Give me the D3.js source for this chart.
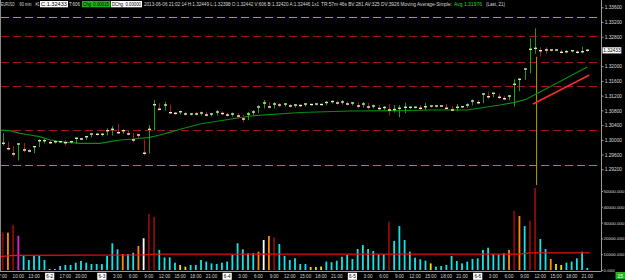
<!DOCTYPE html>
<html>
<head>
<meta charset="utf-8">
<script src="https://cdn.jsdelivr.net/npm/d3@7"></script>
<style>
  body { margin: 0; background: #000; }
  svg { display: block; font-family: "Liberation Sans", Arial, sans-serif; }
</style>
</head>
<body>
<div id="chart"></div>
<script>
// EURUSD 60 min bars, 31 May 7:00 .. 6 Jun 21:00 (113 bars)
var opens = [1.29861,1.29907,1.29760,1.29617,1.29887,1.29725,1.29698,1.29814,1.29956,1.29978,
  1.29923,1.29942,1.29950,1.29923,1.29950,1.30042,1.30023,1.30085,1.30159,1.30132,
  1.30151,1.30248,1.30286,1.30194,1.30248,1.30159,1.30151,1.30015,1.29636,1.30286,
  1.30954,1.30830,1.30946,1.30737,1.30720,1.30764,1.30688,1.30715,1.30702,1.30729,
  1.30674,1.30702,1.30756,1.30715,1.30674,1.30702,1.30647,1.30566,1.30702,1.30756,
  1.30892,1.31001,1.30892,1.30973,1.30946,1.30973,1.30919,1.30946,1.30933,1.30973,
  1.30960,1.30973,1.30960,1.31014,1.31041,1.31001,1.31028,1.30973,1.31001,1.30919,
  1.30973,1.30892,1.30919,1.30851,1.30878,1.30810,1.30824,1.30857,1.30871,1.30876,
  1.30884,1.30857,1.30900,1.30911,1.30927,1.30919,1.30857,1.30810,1.30884,1.30900,
  1.30946,1.31055,1.31009,1.31245,1.31171,1.31264,1.31155,1.31117,1.31190,1.31508,
  1.31644,1.31924,1.32459,1.32486,1.32453,1.32445,1.32434,1.32440,1.32377,1.32394,
  1.32421,1.32377,1.32442];
var highs = [1.30186,1.29950,1.29833,1.29907,1.29915,1.29752,1.29833,1.30015,1.30023,1.29983,
  1.29983,1.29969,1.29997,1.29969,1.30069,1.30050,1.30104,1.30177,1.30172,1.30177,
  1.30313,1.30375,1.30430,1.30286,1.30267,1.30194,1.30151,1.30015,1.30403,1.31082,
  1.30992,1.31036,1.30954,1.30756,1.30791,1.30770,1.30729,1.30756,1.30770,1.30756,
  1.30729,1.30810,1.30770,1.30729,1.30742,1.30729,1.30674,1.30756,1.30810,1.30946,
  1.31082,1.31028,1.31028,1.31001,1.31001,1.30973,1.30973,1.30960,1.31001,1.30973,
  1.30987,1.30973,1.31055,1.31068,1.31055,1.31082,1.31041,1.31028,1.31014,1.31028,
  1.31001,1.30960,1.30946,1.30919,1.30973,1.30946,1.30946,1.31009,1.30905,1.30905,
  1.30946,1.31009,1.30933,1.30933,1.30933,1.30973,1.30919,1.30973,1.30919,1.30992,
  1.31101,1.31082,1.31264,1.31307,1.31280,1.31264,1.31190,1.31218,1.31644,1.31671,
  1.31943,1.32758,1.33029,1.32513,1.32513,1.32459,1.32453,1.32459,1.32440,1.32440,
  1.32440,1.32530,1.32449];
var lows = [1.29861,1.29725,1.29561,1.29453,1.29679,1.29671,1.29652,1.29814,1.29915,1.29901,
  1.29915,1.29929,1.29861,1.29915,1.29907,1.29997,1.30010,1.30085,1.30132,1.30104,
  1.30132,1.30132,1.30177,1.30177,1.30132,1.29950,1.30042,1.29589,1.29636,1.30267,
  1.30810,1.30810,1.30720,1.30688,1.30702,1.30674,1.30674,1.30674,1.30674,1.30647,
  1.30647,1.30674,1.30688,1.30647,1.30647,1.30593,1.30484,1.30552,1.30674,1.30742,
  1.30865,1.30865,1.30865,1.30905,1.30919,1.30892,1.30892,1.30905,1.30919,1.30946,
  1.30946,1.30946,1.30946,1.31001,1.30973,1.30973,1.30946,1.30946,1.30865,1.30892,
  1.30838,1.30865,1.30810,1.30824,1.30674,1.30756,1.30628,1.30737,1.30851,1.30865,
  1.30810,1.30830,1.30892,1.30892,1.30905,1.30810,1.30791,1.30791,1.30878,1.30884,
  1.30946,1.30992,1.31009,1.31128,1.31171,1.31128,1.31082,1.31082,1.30919,1.31334,
  1.31644,1.31823,1.32350,1.32277,1.32350,1.32413,1.32421,1.32367,1.32367,1.32386,
  1.32358,1.32367,1.32398];
var closes = [1.29907,1.29760,1.29617,1.29887,1.29725,1.29698,1.29814,1.29978,1.29978,1.29923,
  1.29950,1.29950,1.29923,1.29950,1.30042,1.30023,1.30085,1.30159,1.30151,1.30151,
  1.30248,1.30286,1.30194,1.30248,1.30159,1.29997,1.30132,1.29636,1.30286,1.30954,
  1.30830,1.30946,1.30737,1.30720,1.30764,1.30702,1.30702,1.30702,1.30729,1.30674,
  1.30702,1.30756,1.30715,1.30674,1.30702,1.30647,1.30566,1.30702,1.30756,1.30892,
  1.31001,1.30892,1.30973,1.30946,1.30973,1.30919,1.30946,1.30933,1.30973,1.30960,
  1.30973,1.30960,1.31014,1.31041,1.31001,1.31028,1.30973,1.31001,1.30919,1.30973,
  1.30892,1.30919,1.30851,1.30878,1.30810,1.30824,1.30857,1.30884,1.30884,1.30884,
  1.30857,1.30900,1.30919,1.30919,1.30919,1.30857,1.30810,1.30884,1.30900,1.30946,
  1.31055,1.31009,1.31245,1.31171,1.31264,1.31155,1.31117,1.31190,1.31508,1.31644,
  1.31924,1.32459,1.32486,1.32421,1.32440,1.32440,1.32440,1.32377,1.32394,1.32421,
  1.32377,1.32394,1.32433];

var volumes = [23900,23600,28500,21700,8900,6300,8900,8900,6300,600,
  600,2500,3200,3200,4600,5700,4600,3800,3800,3800,
  8900,16900,13100,10100,10100,10900,15200,20100,35400,33700,
  12700,8000,8000,4600,3200,2100,3200,3200,6300,5300,
  4200,3800,4600,5300,9500,16900,13100,10600,10600,11600,
  19000,21500,20700,16500,8900,6300,7400,3800,3800,1900,
  1900,2200,5300,4900,5900,8400,9500,7000,13300,15800,
  13300,12000,10100,9900,30600,18400,27800,19000,11600,7800,
  6800,5900,4200,2100,2500,3200,8900,5700,4200,5300,
  7000,7400,12700,14100,10100,9900,10600,12700,37500,34200,
  27800,31200,52000,19600,13300,7000,3800,3200,4600,5300,
  7400,11600,1300];
// volume bar class: c normal, r heavy, o high, m peak, w rising, y thin
var volKinds = ("rorm" + "ccccc" + "yy" + "cccccccccccc" + "o" + "cc" + "o" + "w" + "rr" +
  "cccc" + "yy" + "ccccccccccccc" + "owor" + "cccccc" + "yyy" + "cccccccccccc" + "r" +
  "ccccccc" + "y" + "cccccccccccccc" + "oro" + "c" + "rr" + "cc" + "o" + "yy" + "ccccc").split("");

// Moving Average-Simple (21), read as [bar, value]
var maPoints = [[-0.5,1.30267],[1.4,1.30249],[3.3,1.30178],[5.2,1.30132],[7.1,1.30086],
  [9.1,1.29996],[11,1.29950],[14.8,1.29906],[18.6,1.29906],[20.6,1.29950],[22.5,1.29996],
  [25,1.30023],[28.2,1.30069],[30.1,1.30132],[32,1.30205],[34,1.30287],[37.8,1.30430],
  [47.4,1.30648],[57,1.30743],[66.5,1.30784],[76.1,1.30792],[81.9,1.30811],[89,1.30811],
  [95.3,1.30947],[98.1,1.31020],[100.3,1.31101],[112,1.31976]];
var trendPoints = [[101.6,1.30974],[112.4,1.31761]];
var volAvgPoints = [[-0.5,8400],[2,9300],[27,9600],[29,10100],[99,10100],[101,10900],[112.5,10900]];

var levels = [1.33345, 1.32812, 1.32123, 1.31463, 1.30259, 1.29309];
var levelKinds = ["y", "r", "r", "r", "r", "t"];
var markerBar = 102, markerTop = 1.32258, markerBottom = 1.28773;
var lastPrice = 1.32433;

var priceTicks = [1.336, 1.332, 1.328, 1.320, 1.316, 1.312, 1.308, 1.304, 1.300, 1.296, 1.292];
var volTicks = [0, 10000, 20000, 30000, 40000, 50000];
var timeLabels = [[0,"7:00"],[3,"10:00"],[6,"13:00"],[12,"17:00"],[15,"20:00"],
  [22,"3:00"],[25,"6:00"],[28,"9:00"],[31,"12:00"],[34,"15:00"],[37,"18:00"],[40,"21:00"],
  [46,"3:00"],[49,"6:00"],[52,"9:00"],[55,"12:00"],[58,"15:00"],[61,"18:00"],[64,"21:00"],
  [70,"3:00"],[73,"6:00"],[76,"9:00"],[79,"12:00"],[82,"15:00"],[85,"18:00"],[88,"21:00"],
  [94,"3:00"],[97,"6:00"],[100,"9:00"],[103,"12:00"],[106,"15:00"],[109,"18:00"],[112,"21:00"]];
var dateLabels = [[9,"6-2"],[19,"6-3"],[43,"6-4"],[67,"6-5"],[91,"6-6"]];

var headerParts = [
  {t: "EURUSD", x: 1, w: 13.5},
  {t: "60 min", x: 19.5, w: 12},
  {t: "#1", x: 35.5, w: 4},
  {t: "C:1.32433", x: 41, w: 26, box: "#ffffff", bx: 40, bw: 28},
  {t: "T:606", x: 69, w: 11},
  {t: "Chg: 0.00015", x: 83, w: 26, box: "#1eb41e", bx: 82, bw: 28.5},
  {t: "DChg: 0.00000", x: 112, w: 29, box: "#ffffff", bx: 111, bw: 31},
  {t: "2013-06-06 21:02:14 H:1.32449 L:1.32398 O:1.32442 V:606 B:1.32420 A:1.32446 1x1", x: 144, w: 175},
  {t: "TR:57m 46s BV:281 AV:325 DV:3926 Moving Average-Simple:", x: 321, w: 131},
  {t: "Avg 1.31976", x: 454, w: 28, color: "#22dd22"},
  {t: "(Last, 21)", x: 486, w: 19}
];

var svgWidth = 625, svgHeight = 280;
var plotRight = 601.5;

var svg = d3.select("#chart").append("svg")
  .attr("width", svgWidth)
  .attr("height", svgHeight);

svg.append("rect").attr("width", svgWidth).attr("height", svgHeight).attr("fill", "#000");

var x = d3.scaleLinear().domain([0, 112]).range([2.7, 587.3]);
var y = d3.scaleLinear().domain([1.292, 1.336]).range([169.3, 7.3]);
var yVol = d3.scaleLinear().domain([0, 50000]).range([270, 191]);

var levelColor = {y: "#a3a32c", r: "#a31414", t: "#4e9c9c"};
var volColor = {c: "#14e4ea", r: "#8c0a0a", o: "#ff8c00", m: "#e01ee0", w: "#ffffff", y: "#e6e600"};

svg.append("clipPath").attr("id", "priceClip")
  .append("rect").attr("x", 1).attr("y", 0).attr("width", plotRight - 1).attr("height", 187);

var pricePane = svg.append("g").attr("clip-path", "url(#priceClip)");

// dashed levels
pricePane.selectAll("line.level")
  .data(levels)
  .enter()
  .append("line")
  .attr("class", "level")
  .attr("x1", 1)
  .attr("x2", plotRight)
  .attr("y1", d => Math.round(y(d)) + 0.5)
  .attr("y2", d => Math.round(y(d)) + 0.5)
  .attr("stroke", (d, i) => levelColor[levelKinds[i]])
  .attr("stroke-width", 1)
  .attr("stroke-dasharray", "8,4");

// marker line
pricePane.append("line")
  .attr("x1", x(markerBar) + 1.5)
  .attr("x2", x(markerBar) + 1.5)
  .attr("y1", y(markerTop))
  .attr("y2", y(markerBottom))
  .attr("stroke", "#b0a000")
  .attr("stroke-width", 1);

// moving average
var lineGen = d3.line().x(d => x(d[0])).y(d => y(d[1]));
pricePane.append("path")
  .datum(maPoints)
  .attr("d", lineGen)
  .attr("fill", "none")
  .attr("stroke", "#0c8c0c")
  .attr("stroke-width", 1.2);

pricePane.append("path")
  .datum(trendPoints)
  .attr("d", lineGen)
  .attr("fill", "none")
  .attr("stroke", "#ff2a2a")
  .attr("stroke-width", 1.5);

// bars
var idx = d3.range(closes.length);
pricePane.selectAll("line.wick")
  .data(idx)
  .enter()
  .append("line")
  .attr("class", "wick")
  .attr("x1", i => Math.round(x(i)) + 0.5)
  .attr("x2", i => Math.round(x(i)) + 0.5)
  .attr("y1", i => y(highs[i]))
  .attr("y2", i => y(lows[i]) + 0.5)
  .attr("stroke", i => closes[i] >= opens[i] ? "#14a014" : "#a81818")
  .attr("stroke-width", 1);

pricePane.selectAll("rect.tick")
  .data(idx)
  .enter()
  .append("rect")
  .attr("class", "tick")
  .attr("x", i => Math.round(x(i)) - 1)
  .attr("y", i => y(closes[i]) - 0.7)
  .attr("width", 3)
  .attr("height", 1.4)
  .attr("fill", i => closes[i] >= opens[i] ? "#d2eaa0" : "#f4f2dc");

// volume pane
svg.selectAll("rect.vol")
  .data(idx)
  .enter()
  .append("rect")
  .attr("class", "vol")
  .attr("x", i => x(i) - 0.9)
  .attr("y", i => yVol(volumes[i]))
  .attr("width", 1.8)
  .attr("height", i => yVol(0) - yVol(volumes[i]))
  .attr("fill", i => volColor[volKinds[i]]);

svg.append("path")
  .datum(volAvgPoints)
  .attr("d", d3.line().x(d => x(d[0])).y(d => yVol(d[1])))
  .attr("fill", "none")
  .attr("stroke", "#e81010")
  .attr("stroke-width", 1.3);

// frame lines
svg.append("line").attr("x1", 0.5).attr("x2", 0.5).attr("y1", 0).attr("y2", 271)
  .attr("stroke", "#8a8a8a");
svg.append("line").attr("x1", plotRight).attr("x2", plotRight).attr("y1", 0).attr("y2", 271.5)
  .attr("stroke", "#9a9a9a");
svg.append("line").attr("x1", 0).attr("x2", plotRight).attr("y1", 271.5).attr("y2", 271.5)
  .attr("stroke", "#9a9a9a");

// right axes
var priceAxis = svg.append("g")
  .attr("transform", `translate(${plotRight}, 0)`)
  .call(d3.axisRight(y).tickValues(priceTicks).tickFormat(d3.format(".5f")).tickSize(2).tickPadding(1.2));
var volAxis = svg.append("g")
  .attr("transform", `translate(${plotRight}, 0)`)
  .call(d3.axisRight(yVol).tickValues(volTicks).tickFormat(d3.format(".3f")).tickSize(1.5).tickPadding(0.6));

[priceAxis, volAxis].forEach(function(g) {
  g.select(".domain").remove();
  g.selectAll("line").attr("stroke", "#9a9a9a");
  g.selectAll("text")
    .attr("fill", "#dcdcdc")
    .style("font-family", "Liberation Sans, Arial, sans-serif");
});
priceAxis.selectAll("text")
  .style("font-size", "5px")
  .attr("textLength", 17.3)
  .attr("lengthAdjust", "spacingAndGlyphs");
volAxis.selectAll("text").style("font-size", "4.4px");

// last price box
svg.append("rect")
  .attr("x", 602.5).attr("y", y(lastPrice) - 3)
  .attr("width", 18.8).attr("height", 6.2)
  .attr("fill", "#ffffff");
svg.append("text")
  .attr("x", 603.3).attr("y", y(lastPrice) + 1.8)
  .attr("fill", "#000")
  .attr("textLength", 17.3)
  .attr("lengthAdjust", "spacingAndGlyphs")
  .style("font-size", "5px")
  .text(d3.format(".5f")(lastPrice));

// time labels
svg.selectAll("text.time")
  .data(timeLabels)
  .enter()
  .append("text")
  .attr("class", "time")
  .attr("x", d => x(d[0]))
  .attr("y", 278)
  .attr("text-anchor", "middle")
  .attr("fill", "#d4d4d4")
  .style("font-size", "4.6px")
  .text(d => d[1]);

var dates = svg.selectAll("g.date")
  .data(dateLabels)
  .enter()
  .append("g")
  .attr("class", "date")
  .attr("transform", d => `translate(${x(d[0])}, 0)`);
dates.append("rect")
  .attr("x", -4.6).attr("y", 272.8).attr("width", 9.2).attr("height", 7)
  .attr("fill", "#ffffff");
dates.append("text")
  .attr("y", 278.3)
  .attr("text-anchor", "middle")
  .attr("fill", "#000")
  .style("font-size", "4.6px")
  .text(d => d[1]);

// corner badge
svg.append("rect").attr("x", 615.5).attr("y", 272).attr("width", 9.5).attr("height", 7.5)
  .attr("fill", "#1eb41e");
svg.append("text").attr("x", 620.2).attr("y", 278.2).attr("text-anchor", "middle")
  .attr("fill", "#ffffff").style("font-size", "5px").text("15");

// header
headerParts.forEach(function(p) {
  if (p.box) {
    svg.append("rect").attr("x", p.bx).attr("y", 1).attr("width", p.bw).attr("height", 6.3)
      .attr("fill", p.box);
  }
  svg.append("text")
    .attr("x", p.x)
    .attr("y", 5.9)
    .attr("textLength", p.w)
    .attr("lengthAdjust", "spacingAndGlyphs")
    .attr("fill", p.box ? "#000" : (p.color || "#d8d8d8"))
    .style("font-size", "4.6px")
    .text(p.t);
});
</script>
</body>
</html>
